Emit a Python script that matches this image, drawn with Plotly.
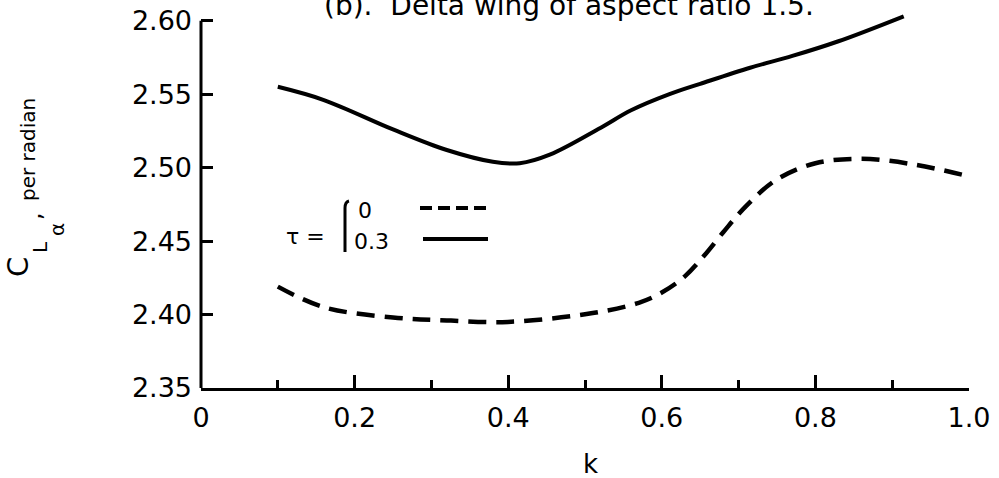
import plotly.graph_objects as go

# Lift-curve slope vs. reduced frequency k, delta wing of aspect ratio 1.5
k_tau0 = [0.10, 0.16, 0.25, 0.32, 0.40, 0.51, 0.57, 0.60, 0.63, 0.655, 0.68, 0.71, 0.75, 0.80, 0.86, 0.93, 1.00]
cla_tau0 = [2.419, 2.405, 2.398, 2.396, 2.395, 2.401, 2.408, 2.415, 2.426, 2.440, 2.456, 2.474, 2.492, 2.503, 2.506, 2.502, 2.494]

k_tau03 = [0.10, 0.16, 0.25, 0.32, 0.38, 0.415, 0.455, 0.52, 0.56, 0.61, 0.65, 0.715, 0.77, 0.83, 0.915]
cla_tau03 = [2.555, 2.546, 2.526, 2.512, 2.504, 2.503, 2.509, 2.527, 2.539, 2.550, 2.557, 2.568, 2.576, 2.586, 2.603]

x_tickvals = [0, 0.2, 0.4, 0.6, 0.8, 1.0]
x_ticktext = ["0", "0.2", "0.4", "0.6", "0.8", "1.0"]
y_tickvals = [2.35, 2.40, 2.45, 2.50, 2.55, 2.60]
y_ticktext = ["2.35", "2.40", "2.45", "2.50", "2.55", "2.60"]

W, H = 999, 478
ML, MR, MT, MB = 201, 30, 6, 90
PW, PH = W - ML - MR, H - MT - MB
Y0, Y1 = 2.35, 2.61
FONT = "DejaVu Sans"


def px(x):
    return (x - ML) / PW


def py(y):
    return (H - MB - y) / PH


def label(text, x, y, size, anchor="center", angle=0):
    return dict(text=text, xref="paper", yref="paper", x=px(x), y=py(y),
                xanchor=anchor, yanchor="middle", textangle=angle,
                showarrow=False, font=dict(family=FONT, size=size, color="black"))


fig = go.Figure()
fig.add_trace(go.Scatter(
    x=k_tau0, y=cla_tau0, mode="lines", line_shape="spline",
    line=dict(color="black", width=4.5, dash="18px,10px"), showlegend=False))
fig.add_trace(go.Scatter(
    x=k_tau03, y=cla_tau03, mode="lines", line_shape="spline",
    line=dict(color="black", width=4), showlegend=False))

shapes = [
    # y axis line, stopping at the top tick
    dict(type="line", xref="paper", yref="paper", x0=0, x1=0, y0=0,
         y1=(2.60 - Y0) / (Y1 - Y0), line=dict(color="black", width=3)),
    # legend samples
    dict(type="line", xref="paper", yref="paper", x0=px(420), x1=px(490),
         y0=py(208), y1=py(208), line=dict(color="black", width=4, dash="12px,6px")),
    dict(type="line", xref="paper", yref="paper", x0=px(423), x1=px(488),
         y0=py(239), y1=py(239), line=dict(color="black", width=4)),
    # brace
    dict(type="path", xref="paper", yref="paper",
         path=f"M {px(349)},{py(201)} Q {px(345)},{py(202)} {px(345)},{py(208)} L {px(345)},{py(252)}",
         line=dict(color="black", width=3)),
]

annotations = [
    dict(text="(b).  Delta wing of aspect ratio 1.5.", xref="paper", yref="paper",
         x=px(322), y=py(24), xanchor="left", yanchor="bottom", showarrow=False,
         font=dict(family=FONT, size=28, color="black")),
    label("k", 590, 464, 26),
    # y axis title, C_L_alpha, per radian (rotated pieces)
    label("C", 18, 267, 29, angle=-90),
    label("L", 40, 247, 20, angle=-90),
    label("α", 57, 230, 20, angle=-90),
    label(",", 33, 216, 24, angle=-90),
    label("per radian", 28, 150, 20, angle=-90),
    # legend text
    label("τ =", 284, 236, 22, anchor="left"),
    label("0", 356, 210, 22, anchor="left"),
    label("0.3", 352, 241, 22, anchor="left"),
]

fig.update_layout(
    width=W, height=H, margin=dict(l=ML, r=MR, t=MT, b=MB),
    paper_bgcolor="white", plot_bgcolor="white",
    font=dict(family=FONT, color="black"),
    shapes=shapes, annotations=annotations,
    xaxis=dict(range=[0, 1.0], showgrid=False, zeroline=False,
               showline=True, linecolor="black", linewidth=3,
               ticks="inside", ticklen=13, tickwidth=3, tickcolor="black",
               tickvals=x_tickvals, ticktext=x_ticktext,
               ticklabelstandoff=4,
               tickfont=dict(family=FONT, size=27, color="black"),
               minor=dict(tickvals=[0.1, 0.3, 0.5, 0.7, 0.9], ticks="inside",
                          ticklen=8, tickwidth=3, tickcolor="black")),
    yaxis=dict(range=[Y0, Y1], showgrid=False, zeroline=False, showline=False,
               ticks="inside", ticklen=12, tickwidth=3, tickcolor="black",
               tickvals=y_tickvals, ticktext=y_ticktext,
               ticklabelstandoff=8,
               tickfont=dict(family=FONT, size=27, color="black")),
)

fig.write_html("out.html")
